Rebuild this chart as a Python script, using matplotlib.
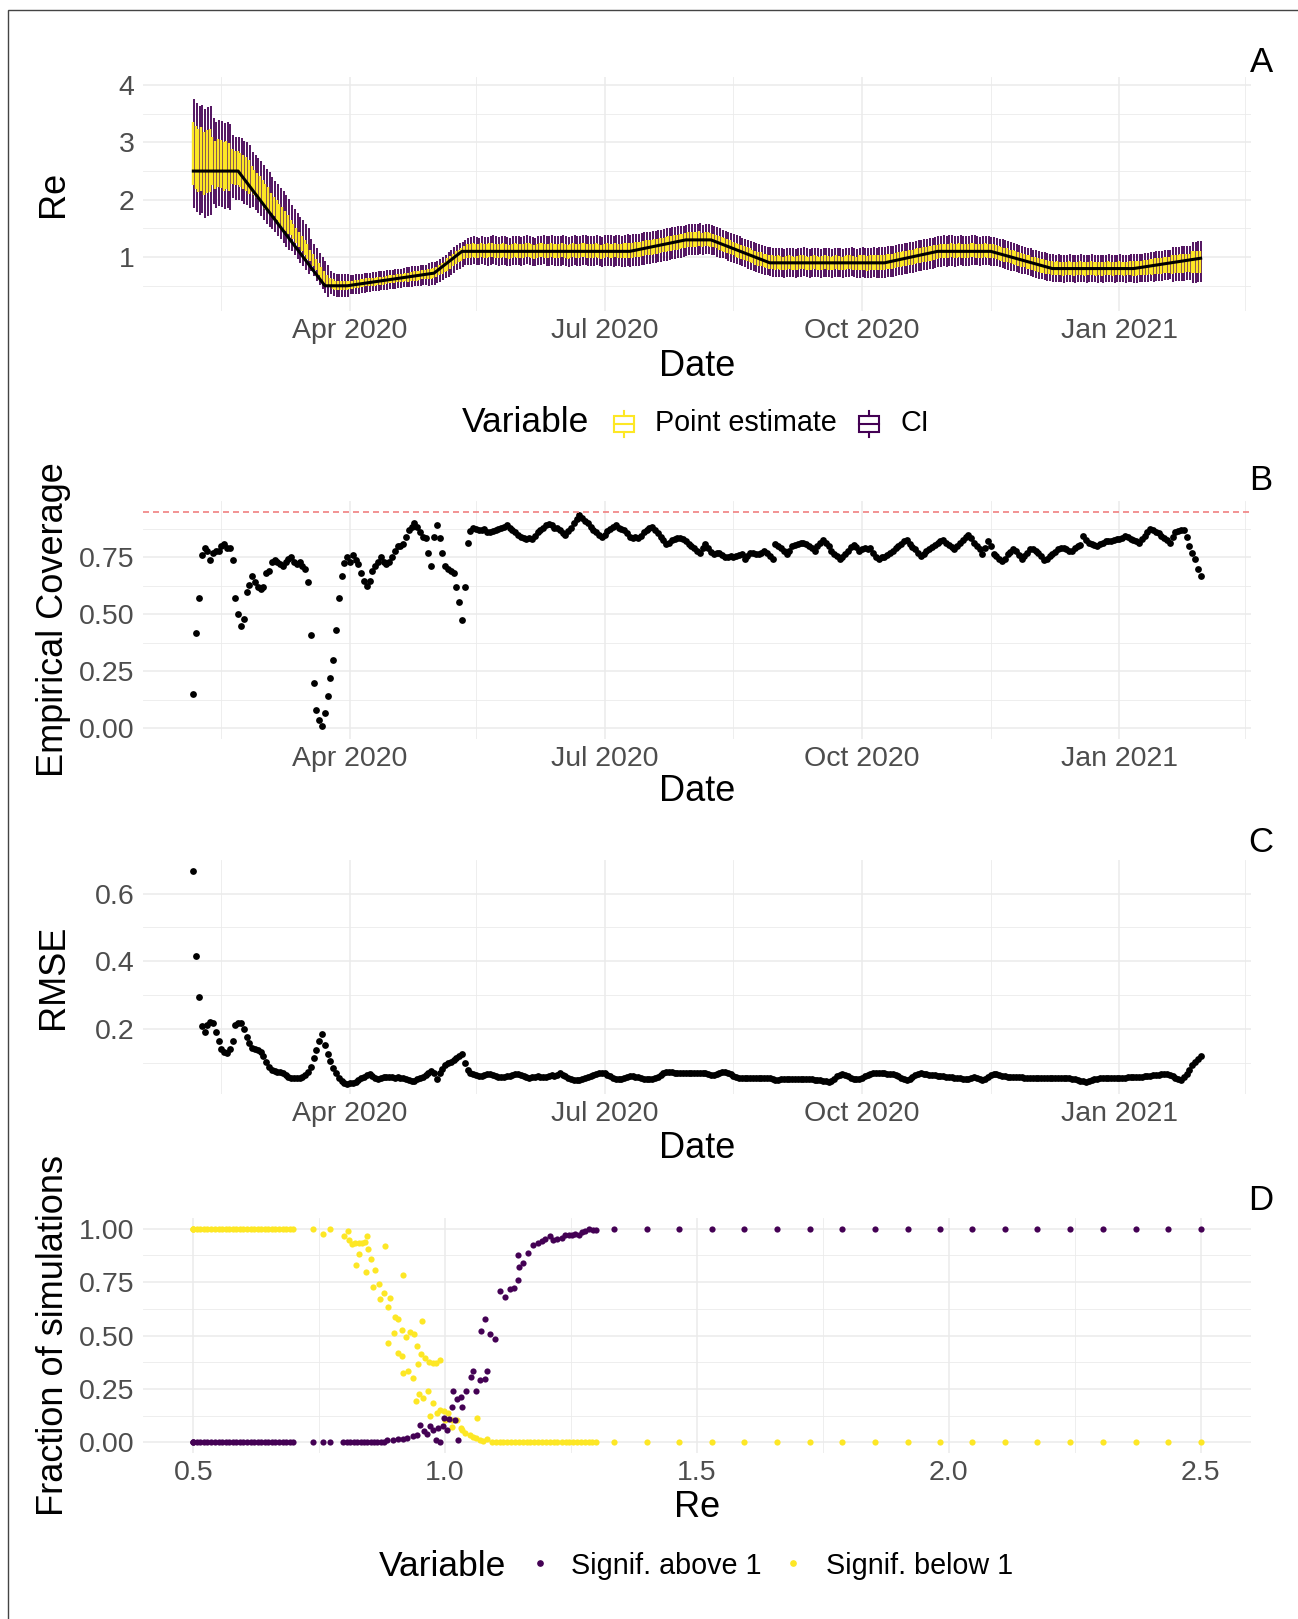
import numpy as np
import pandas as pd
import matplotlib
matplotlib.use("Agg")
import matplotlib.pyplot as plt
import matplotlib.dates as mdates
from matplotlib.patches import Rectangle
from matplotlib.lines import Line2D
from matplotlib.ticker import FixedLocator

plt.rcParams["font.family"] = ["Liberation Sans", "DejaVu Sans"]

PURPLE = "#440154"
YELLOW = "#FDE725"
GRID = "#EBEBEB"
TICK = "#4D4D4D"

W, H = 1298, 1619

# ---------------- data ----------------
dates = pd.date_range("2020-02-05", "2021-01-30", freq="D")

# true Re (black line)
re_knot_dates = ["2020-02-05", "2020-02-21", "2020-03-23", "2020-03-31", "2020-05-01",
                 "2020-05-11", "2020-07-10", "2020-07-30", "2020-08-08", "2020-08-29",
                 "2020-10-09", "2020-10-28", "2020-11-16", "2020-12-08", "2021-01-06",
                 "2021-01-30"]
re_knot_vals = [2.5, 2.5, 0.5, 0.5, 0.72, 1.1, 1.1, 1.3, 1.3, 0.9, 0.9, 1.1, 1.1, 0.8, 0.8, 0.98]

# centre of the daily estimates
est = [
    2.80, 2.74, 2.68, 2.71, 2.63, 2.66, 2.69, 2.67, 2.61, 2.64,
    2.62, 2.58, 2.60, 2.57, 2.58, 2.55, 2.55, 2.52, 2.48, 2.45,
    2.40, 2.36, 2.30, 2.25, 2.20, 2.12, 2.06, 2.00, 1.94, 1.88,
    1.82, 1.76, 1.70, 1.63, 1.57, 1.51, 1.44, 1.37, 1.30, 1.24,
    1.17, 1.10, 1.03, 0.95, 0.87, 0.79, 0.72, 0.65, 0.59, 0.55,
    0.53, 0.51, 0.50, 0.51, 0.50, 0.51, 0.52, 0.52, 0.53, 0.53,
    0.54, 0.55, 0.56, 0.56, 0.57, 0.57, 0.58, 0.59, 0.59, 0.60,
    0.61, 0.61, 0.62, 0.63, 0.63, 0.64, 0.65, 0.65, 0.66, 0.67,
    0.67, 0.68, 0.69, 0.69, 0.70, 0.71, 0.72, 0.74, 0.77, 0.80,
    0.83, 0.87, 0.91, 0.95, 0.99, 1.02, 1.05, 1.08, 1.10, 1.11,
    1.12, 1.11, 1.10, 1.12, 1.11, 1.10, 1.12, 1.13, 1.11, 1.10,
    1.11, 1.12, 1.10, 1.09, 1.11, 1.12, 1.11, 1.10, 1.11, 1.13,
    1.12, 1.10, 1.09, 1.11, 1.12, 1.13, 1.11, 1.10, 1.12, 1.11,
    1.10, 1.11, 1.12, 1.10, 1.09, 1.11, 1.12, 1.11, 1.10, 1.12,
    1.13, 1.11, 1.10, 1.11, 1.12, 1.10, 1.09, 1.11, 1.12, 1.11,
    1.10, 1.12, 1.11, 1.10, 1.11, 1.12, 1.11, 1.12, 1.13, 1.13,
    1.14, 1.15, 1.16, 1.16, 1.17, 1.18, 1.19, 1.20, 1.21, 1.22,
    1.23, 1.24, 1.25, 1.26, 1.27, 1.28, 1.29, 1.30, 1.31, 1.30,
    1.31, 1.32, 1.30, 1.31, 1.31, 1.30, 1.29, 1.27, 1.25, 1.23,
    1.21, 1.19, 1.17, 1.15, 1.13, 1.11, 1.09, 1.07, 1.05, 1.03,
    1.01, 0.99, 0.97, 0.96, 0.94, 0.93, 0.92, 0.91, 0.90, 0.91,
    0.90, 0.89, 0.90, 0.91, 0.90, 0.89, 0.90, 0.91, 0.92, 0.90,
    0.89, 0.90, 0.91, 0.90, 0.89, 0.90, 0.91, 0.90, 0.89, 0.90,
    0.91, 0.90, 0.89, 0.90, 0.91, 0.92, 0.90, 0.89, 0.90, 0.91,
    0.90, 0.89, 0.90, 0.91, 0.90, 0.91, 0.90, 0.91, 0.92, 0.92,
    0.93, 0.94, 0.95, 0.96, 0.97, 0.98, 0.99, 1.00, 1.01, 1.02,
    1.03, 1.04, 1.05, 1.06, 1.07, 1.08, 1.09, 1.10, 1.11, 1.10,
    1.11, 1.12, 1.10, 1.11, 1.12, 1.11, 1.10, 1.11, 1.12, 1.13,
    1.11, 1.10, 1.11, 1.12, 1.11, 1.10, 1.10, 1.09, 1.07, 1.06,
    1.04, 1.03, 1.01, 1.00, 0.98, 0.97, 0.95, 0.94, 0.92, 0.91,
    0.89, 0.88, 0.86, 0.85, 0.84, 0.83, 0.82, 0.81, 0.80, 0.81,
    0.80, 0.79, 0.80, 0.81, 0.80, 0.79, 0.80, 0.81, 0.80, 0.79,
    0.80, 0.81, 0.80, 0.79, 0.80, 0.79, 0.80, 0.81, 0.80, 0.79,
    0.80, 0.81, 0.80, 0.79, 0.80, 0.81, 0.80, 0.80, 0.81, 0.81,
    0.82, 0.82, 0.83, 0.83, 0.84, 0.85, 0.85, 0.86, 0.86, 0.87,
    0.87, 0.88, 0.88, 0.89, 0.89, 0.90, 0.90, 0.91, 0.91, 0.92, 0.92,
]

# weekly half-heights of the point-estimate and CI bars
pe_half_week = [0.55, 0.42, 0.30, 0.22, 0.17, 0.13, 0.10, 0.08, 0.07, 0.07, 0.07, 0.08, 0.09,
                0.11, 0.12, 0.12, 0.12, 0.12, 0.12, 0.12, 0.12, 0.12, 0.13, 0.13, 0.13, 0.13,
                0.12, 0.12, 0.12, 0.12, 0.12, 0.12, 0.12, 0.12, 0.13, 0.13, 0.13, 0.13, 0.12,
                0.12, 0.12, 0.12, 0.12, 0.12, 0.12, 0.12, 0.12, 0.12, 0.13, 0.14, 0.16, 0.19]
ci_half_week = [0.95, 0.75, 0.55, 0.48, 0.45, 0.40, 0.28, 0.20, 0.17, 0.17, 0.17, 0.18, 0.20,
                0.22, 0.24, 0.25, 0.25, 0.25, 0.26, 0.26, 0.26, 0.27, 0.28, 0.28, 0.28, 0.27,
                0.26, 0.25, 0.25, 0.25, 0.25, 0.25, 0.25, 0.25, 0.26, 0.27, 0.27, 0.27, 0.27,
                0.26, 0.25, 0.25, 0.24, 0.24, 0.24, 0.24, 0.24, 0.24, 0.25, 0.26, 0.30, 0.36]

coverage = [
    0.15, 0.42, 0.57, 0.76, 0.79, 0.78, 0.74, 0.77, 0.78, 0.78,
    0.80, 0.81, 0.79, 0.79, 0.74, 0.57, 0.50, 0.45, 0.48, 0.60,
    0.63, 0.67, 0.64, 0.62, 0.61, 0.62, 0.68, 0.69, 0.73, 0.74,
    0.73, 0.72, 0.71, 0.73, 0.745, 0.75, 0.73, 0.72, 0.73, 0.71,
    0.70, 0.64, 0.41, 0.20, 0.08, 0.035, 0.01, 0.065, 0.14, 0.22,
    0.30, 0.43, 0.57, 0.67, 0.725, 0.75, 0.73, 0.76, 0.74, 0.72,
    0.68, 0.645, 0.625, 0.645, 0.69, 0.71, 0.73, 0.75, 0.73, 0.72,
    0.73, 0.75, 0.78, 0.80, 0.80, 0.81, 0.84, 0.87, 0.885, 0.90,
    0.885, 0.86, 0.84, 0.835, 0.77, 0.71, 0.84, 0.89, 0.835, 0.77,
    0.71, 0.70, 0.69, 0.68, 0.62, 0.555, 0.475, 0.62, 0.815, 0.865,
    0.88, 0.875, 0.87, 0.87, 0.875, 0.86, 0.86, 0.865, 0.87, 0.875,
    0.88, 0.885, 0.89, 0.88, 0.87, 0.86, 0.85, 0.84, 0.835, 0.83,
    0.835, 0.83, 0.845, 0.86, 0.87, 0.88, 0.89, 0.895, 0.89, 0.88,
    0.88, 0.87, 0.855, 0.85, 0.865, 0.88, 0.90, 0.92, 0.937, 0.925,
    0.91, 0.90, 0.885, 0.87, 0.86, 0.85, 0.84, 0.85, 0.865, 0.875,
    0.885, 0.89, 0.88, 0.875, 0.87, 0.855, 0.84, 0.835, 0.84, 0.835,
    0.845, 0.86, 0.87, 0.88, 0.885, 0.87, 0.855, 0.84, 0.825, 0.81,
    0.815, 0.825, 0.83, 0.835, 0.835, 0.83, 0.82, 0.81, 0.80, 0.79,
    0.78, 0.77, 0.79, 0.81, 0.79, 0.775, 0.765, 0.77, 0.77, 0.76,
    0.75, 0.75, 0.755, 0.75, 0.755, 0.76, 0.765, 0.745, 0.755, 0.77,
    0.77, 0.765, 0.765, 0.77, 0.78, 0.77, 0.755, 0.745, 0.81, 0.80,
    0.79, 0.78, 0.765, 0.78, 0.80, 0.805, 0.81, 0.815, 0.815, 0.81,
    0.80, 0.79, 0.78, 0.80, 0.815, 0.825, 0.815, 0.80, 0.78, 0.765,
    0.755, 0.745, 0.75, 0.765, 0.78, 0.795, 0.805, 0.795, 0.78, 0.785,
    0.79, 0.785, 0.79, 0.77, 0.75, 0.745, 0.75, 0.75, 0.76, 0.77,
    0.78, 0.79, 0.80, 0.81, 0.82, 0.825, 0.81, 0.795, 0.785, 0.77,
    0.755, 0.765, 0.78, 0.785, 0.795, 0.805, 0.815, 0.82, 0.825, 0.815,
    0.805, 0.795, 0.785, 0.80, 0.815, 0.825, 0.84, 0.85, 0.835, 0.815,
    0.80, 0.785, 0.765, 0.79, 0.82, 0.80, 0.765, 0.755, 0.745, 0.735,
    0.745, 0.765, 0.775, 0.785, 0.78, 0.76, 0.745, 0.755, 0.77, 0.785,
    0.785, 0.78, 0.77, 0.755, 0.74, 0.745, 0.755, 0.765, 0.775, 0.785,
    0.79, 0.79, 0.785, 0.78, 0.78, 0.79, 0.80, 0.805, 0.845, 0.825,
    0.815, 0.81, 0.805, 0.80, 0.81, 0.815, 0.82, 0.82, 0.82, 0.825,
    0.83, 0.83, 0.835, 0.845, 0.84, 0.83, 0.825, 0.82, 0.815, 0.83,
    0.845, 0.86, 0.875, 0.87, 0.86, 0.855, 0.845, 0.835, 0.825, 0.815,
    0.84, 0.86, 0.865, 0.87, 0.87, 0.84, 0.80, 0.77, 0.745, 0.70, 0.67,
]

rmse = [
    0.667, 0.415, 0.295, 0.209, 0.192, 0.212, 0.222, 0.217, 0.192, 0.166,
    0.143, 0.133, 0.131, 0.141, 0.166, 0.212, 0.219, 0.217, 0.202, 0.177,
    0.158, 0.146, 0.141, 0.138, 0.133, 0.121, 0.104, 0.089, 0.079, 0.076,
    0.074, 0.073, 0.070, 0.065, 0.060, 0.056, 0.056, 0.056, 0.056, 0.058,
    0.064, 0.074, 0.089, 0.114, 0.140, 0.165, 0.187, 0.153, 0.127, 0.107,
    0.087, 0.072, 0.057, 0.047, 0.040, 0.038, 0.040, 0.042, 0.045, 0.050,
    0.055, 0.060, 0.065, 0.067, 0.062, 0.057, 0.054, 0.056, 0.058, 0.059,
    0.059, 0.058, 0.057, 0.058, 0.057, 0.056, 0.054, 0.050, 0.046, 0.048,
    0.052, 0.056, 0.060, 0.065, 0.070, 0.076, 0.070, 0.054, 0.070, 0.084,
    0.094, 0.099, 0.104, 0.109, 0.114, 0.121, 0.127, 0.099, 0.079, 0.072,
    0.067, 0.064, 0.062, 0.063, 0.065, 0.067, 0.068, 0.066, 0.063, 0.060,
    0.058, 0.059, 0.061, 0.063, 0.066, 0.068, 0.067, 0.064, 0.061, 0.058,
    0.057, 0.058, 0.060, 0.061, 0.060, 0.059, 0.060, 0.062, 0.064, 0.062,
    0.066, 0.070, 0.066, 0.061, 0.056, 0.052, 0.051, 0.050, 0.050, 0.052,
    0.055, 0.058, 0.062, 0.066, 0.069, 0.071, 0.072, 0.070, 0.066, 0.061,
    0.056, 0.053, 0.052, 0.054, 0.057, 0.060, 0.062, 0.062, 0.060, 0.058,
    0.056, 0.054, 0.053, 0.052, 0.052, 0.055, 0.060, 0.066, 0.072, 0.075,
    0.074, 0.073, 0.072, 0.072, 0.071, 0.072, 0.072, 0.072, 0.071, 0.072,
    0.072, 0.072, 0.072, 0.070, 0.068, 0.066, 0.065, 0.068, 0.071, 0.074,
    0.075, 0.072, 0.068, 0.063, 0.059, 0.057, 0.057, 0.057, 0.057, 0.057,
    0.057, 0.057, 0.057, 0.057, 0.057, 0.057, 0.055, 0.052, 0.050, 0.051,
    0.052, 0.053, 0.053, 0.053, 0.053, 0.053, 0.052, 0.052, 0.052, 0.052,
    0.052, 0.052, 0.051, 0.050, 0.049, 0.048, 0.046, 0.045, 0.048, 0.054,
    0.062, 0.066, 0.067, 0.066, 0.062, 0.057, 0.053, 0.052, 0.054, 0.057,
    0.061, 0.065, 0.068, 0.071, 0.072, 0.072, 0.071, 0.070, 0.069, 0.068,
    0.068, 0.066, 0.062, 0.057, 0.052, 0.050, 0.053, 0.058, 0.064, 0.068,
    0.070, 0.069, 0.068, 0.066, 0.065, 0.064, 0.063, 0.062, 0.061, 0.060,
    0.059, 0.058, 0.057, 0.056, 0.055, 0.054, 0.053, 0.054, 0.057, 0.060,
    0.056, 0.052, 0.050, 0.053, 0.058, 0.064, 0.068, 0.067, 0.065, 0.063,
    0.061, 0.060, 0.060, 0.059, 0.059, 0.058, 0.058, 0.057, 0.057, 0.057,
    0.057, 0.057, 0.057, 0.057, 0.057, 0.057, 0.057, 0.057, 0.057, 0.057,
    0.056, 0.056, 0.055, 0.055, 0.054, 0.052, 0.050, 0.048, 0.046, 0.044,
    0.046, 0.049, 0.052, 0.054, 0.055, 0.055, 0.055, 0.055, 0.055, 0.055,
    0.055, 0.055, 0.056, 0.057, 0.058, 0.059, 0.060, 0.060, 0.060, 0.060,
    0.061, 0.062, 0.063, 0.064, 0.065, 0.066, 0.067, 0.067, 0.068, 0.066,
    0.062, 0.056, 0.052, 0.050, 0.058, 0.068, 0.080, 0.094, 0.104, 0.113, 0.121,
]

# panel D: fraction of simulations vs true Re
re_low = [0.500, 0.500, 0.500, 0.507, 0.514, 0.521, 0.528, 0.535, 0.543, 0.550, 0.557,
          0.564, 0.571, 0.578, 0.585, 0.592, 0.599, 0.606, 0.614, 0.621, 0.628, 0.635,
          0.642, 0.649, 0.656, 0.663, 0.670, 0.677, 0.684, 0.691, 0.698]
re_high = [1.335, 1.400, 1.465, 1.529, 1.594, 1.659, 1.724, 1.788, 1.853, 1.918,
           1.982, 2.047, 2.112, 2.176, 2.241, 2.306, 2.371, 2.435, 2.500]
above_mid = [
    (0.737, 0.0), (0.757, 0.0), (0.772, 0.0), (0.798, 0.0), (0.805, 0.0), (0.812, 0.0),
    (0.818, 0.0), (0.825, 0.0), (0.832, 0.0), (0.838, 0.0), (0.845, 0.0), (0.852, 0.0),
    (0.858, 0.0), (0.865, 0.0), (0.872, 0.0), (0.878, 0.0), (0.884, 0.013), (0.897, 0.013),
    (0.907, 0.017), (0.917, 0.017), (0.924, 0.022), (0.937, 0.028), (0.944, 0.036),
    (0.950, 0.081), (0.958, 0.053), (0.964, 0.041), (0.970, 0.078), (0.976, 0.059),
    (0.982, 0.013), (0.985, 0.069), (0.990, 0.002), (0.995, 0.075), (0.998, 0.113),
    (1.003, 0.056), (1.007, 0.110), (1.013, 0.163), (1.015, 0.241), (1.020, 0.106),
    (1.026, 0.009), (1.024, 0.203), (1.031, 0.211), (1.033, 0.164), (1.041, 0.238),
    (1.052, 0.307), (1.055, 0.335), (1.062, 0.239), (1.069, 0.291), (1.079, 0.296),
    (1.084, 0.336), (1.071, 0.521), (1.079, 0.579), (1.089, 0.507), (1.099, 0.485),
    (1.108, 0.706), (1.118, 0.681), (1.128, 0.717), (1.137, 0.721), (1.145, 0.761),
    (1.147, 0.822), (1.155, 0.839), (1.144, 0.876), (1.165, 0.884), (1.175, 0.922),
    (1.185, 0.933), (1.192, 0.944), (1.198, 0.953), (1.208, 0.964), (1.215, 0.948),
    (1.222, 0.951), (1.232, 0.956), (1.238, 0.969), (1.245, 0.972), (1.251, 0.972),
    (1.258, 0.975), (1.265, 0.972), (1.271, 0.983), (1.278, 0.991), (1.286, 0.998),
    (1.294, 0.995), (1.299, 0.992),
]
below_mid = [
    (0.737, 1.0), (0.757, 0.973), (0.772, 0.998), (0.800, 0.964), (0.808, 0.991),
    (0.810, 0.948), (0.815, 0.928), (0.821, 0.933), (0.828, 0.933), (0.835, 0.933),
    (0.840, 0.936), (0.845, 0.964), (0.846, 0.905), (0.828, 0.883), (0.822, 0.829),
    (0.843, 0.795), (0.853, 0.858), (0.857, 0.726), (0.861, 0.808), (0.868, 0.742),
    (0.871, 0.671), (0.881, 0.917), (0.878, 0.701), (0.886, 0.632), (0.891, 0.674),
    (0.900, 0.587), (0.907, 0.576), (0.917, 0.784), (0.915, 0.524), (0.899, 0.513),
    (0.886, 0.466), (0.907, 0.419), (0.914, 0.405), (0.923, 0.495), (0.931, 0.518),
    (0.939, 0.507), (0.945, 0.452), (0.954, 0.568), (0.952, 0.413), (0.960, 0.393),
    (0.968, 0.377), (0.976, 0.372), (0.982, 0.372), (0.990, 0.385), (0.947, 0.365),
    (0.917, 0.326), (0.927, 0.333), (0.937, 0.302), (0.949, 0.228), (0.956, 0.208),
    (0.966, 0.239), (0.942, 0.194), (0.976, 0.182), (0.970, 0.124), (0.983, 0.139),
    (0.989, 0.150), (0.998, 0.147), (1.005, 0.138), (1.000, 0.103), (1.013, 0.106),
    (1.023, 0.103), (1.013, 0.072), (1.031, 0.069), (1.040, 0.044), (1.033, 0.056),
    (1.050, 0.033), (1.055, 0.025), (1.063, 0.113), (1.061, 0.019), (1.069, 0.009),
    (1.076, 0.006), (1.084, 0.017),
]
below_zero_re = [1.092, 1.100, 1.108, 1.115, 1.123, 1.131, 1.138, 1.146, 1.154, 1.162,
                 1.169, 1.177, 1.185, 1.192, 1.200, 1.208, 1.216, 1.223, 1.231, 1.239,
                 1.246, 1.254, 1.262, 1.269, 1.277, 1.285, 1.292, 1.300]

major_dates = ["2020-04-01", "2020-07-01", "2020-10-01", "2021-01-01"]
minor_dates = ["2020-02-15", "2020-05-16", "2020-08-16", "2020-11-16", "2021-02-15"]


# ---------------- helpers ----------------
def fx(px):
    return px / W


def fy(py):
    return 1 - py / H


def panel(top, bottom):
    return fig.add_axes([fx(143), fy(bottom), (1251 - 143) / W, (bottom - top) / H])


def style(ax):
    for s in ax.spines.values():
        s.set_visible(False)
    ax.set_axisbelow(True)
    ax.grid(which="major", color=GRID, lw=1.1)
    ax.grid(which="minor", color=GRID, lw=0.6)
    ax.tick_params(which="both", length=0)
    ax.tick_params(axis="x", labelsize=20.5, labelcolor=TICK, pad=5)
    ax.tick_params(axis="y", labelsize=20.5, labelcolor=TICK, pad=6)


def date_axis(ax):
    ax.set_xlim(mdates.date2num(pd.Timestamp("2020-01-18")),
                mdates.date2num(pd.Timestamp("2021-02-17")))
    ax.xaxis.set_major_locator(FixedLocator(mdates.date2num(pd.to_datetime(major_dates))))
    ax.xaxis.set_minor_locator(FixedLocator(mdates.date2num(pd.to_datetime(minor_dates))))
    ax.xaxis.set_major_formatter(mdates.DateFormatter("%b %Y"))


def labels(ax, xlab, ylab, bottom, top, xoff=52):
    hgt = bottom - top
    ax.set_xlabel(xlab, fontsize=26, va="center")
    ax.xaxis.set_label_coords(0.5, -xoff / hgt)
    ax.set_ylabel(ylab, fontsize=26, va="center")
    ax.yaxis.set_label_coords((54 - 143) / 1108, 0.5)


def box_key(cx, cy, color):
    fig.add_artist(Rectangle((fx(cx - 10), fy(cy + 8)), 20 / W, 16 / H, transform=fig.transFigure,
                             facecolor="white", edgecolor=color, lw=1.5))
    fig.add_artist(Line2D([fx(cx - 10), fx(cx + 10)], [fy(cy), fy(cy)], transform=fig.transFigure,
                          color=color, lw=1.5))
    fig.add_artist(Line2D([fx(cx), fx(cx)], [fy(cy - 8), fy(cy - 13)], transform=fig.transFigure,
                          color=color, lw=1.5))
    fig.add_artist(Line2D([fx(cx), fx(cx)], [fy(cy + 8), fy(cy + 13)], transform=fig.transFigure,
                          color=color, lw=1.5))


fig = plt.figure(figsize=(W / 100, H / 100), dpi=100)

xd = mdates.date2num(dates)
est_a = np.array(est)
pe_half = np.repeat(pe_half_week, 7)[:len(dates)]
ci_half = np.repeat(ci_half_week, 7)[:len(dates)]

# ---------------- panel A ----------------
axA = panel(77, 311)
style(axA)
date_axis(axA)
axA.vlines(xd + 0.22, est_a - ci_half, est_a + ci_half, color=PURPLE, lw=1.3)
axA.vlines(xd - 0.22, est_a - pe_half, est_a + pe_half, color=YELLOW, lw=1.7)
axA.plot(mdates.date2num(pd.to_datetime(re_knot_dates)), re_knot_vals, color="black", lw=2.2)
axA.set_ylim(0.06, 4.14)
axA.yaxis.set_major_locator(FixedLocator([1, 2, 3, 4]))
axA.yaxis.set_minor_locator(FixedLocator([0.5, 1.5, 2.5, 3.5]))
axA.set_yticklabels(["1", "2", "3", "4"])
labels(axA, "Date", "Re", 311, 77, xoff=56)

# legend A
fig.text(fx(462), fy(423), "Variable", fontsize=25.5, ha="left", va="center")
box_key(624, 424, YELLOW)
fig.text(fx(655), fy(423), "Point estimate", fontsize=20.7, ha="left", va="center")
box_key(869, 424, PURPLE)
fig.text(fx(900), fy(423), "CI", fontsize=20.7, ha="left", va="center")

# ---------------- panel B ----------------
axB = panel(501, 739)
style(axB)
date_axis(axB)
axB.axhline(0.95, color="#F08080", lw=1.2, dashes=(3.6, 2.4))
axB.scatter(xd, coverage, s=24, color="black", linewidths=0)
axB.set_ylim(-0.0475, 0.9975)
axB.yaxis.set_major_locator(FixedLocator([0, 0.25, 0.5, 0.75]))
axB.yaxis.set_minor_locator(FixedLocator([0.125, 0.375, 0.625, 0.875]))
axB.set_yticklabels(["0.00", "0.25", "0.50", "0.75"])
labels(axB, "Date", "Empirical Coverage", 739, 501)

# ---------------- panel C ----------------
axC = panel(860, 1094)
style(axC)
date_axis(axC)
axC.scatter(xd, rmse, s=24, color="black", linewidths=0)
axC.set_ylim(0.009, 0.699)
axC.yaxis.set_major_locator(FixedLocator([0.2, 0.4, 0.6]))
axC.yaxis.set_minor_locator(FixedLocator([0.1, 0.3, 0.5]))
axC.set_yticklabels(["0.2", "0.4", "0.6"])
labels(axC, "Date", "RMSE", 1094, 860, xoff=54)

# ---------------- panel D ----------------
axD = panel(1218, 1453)
style(axD)
above_x = re_low + [p[0] for p in above_mid] + re_high
above_y = [0.0] * len(re_low) + [p[1] for p in above_mid] + [1.0] * len(re_high)
below_x = re_low + [p[0] for p in below_mid] + below_zero_re + re_high
below_y = [1.0] * len(re_low) + [p[1] for p in below_mid] + [0.0] * len(below_zero_re) + [0.0] * len(re_high)
axD.scatter(below_x, below_y, s=20, color=YELLOW, linewidths=0)
axD.scatter(above_x, above_y, s=20, color=PURPLE, linewidths=0)
axD.set_xlim(0.4, 2.6)
axD.set_ylim(-0.05, 1.05)
axD.xaxis.set_major_locator(FixedLocator([0.5, 1.0, 1.5, 2.0, 2.5]))
axD.xaxis.set_minor_locator(FixedLocator([0.75, 1.25, 1.75, 2.25]))
axD.set_xticklabels(["0.5", "1.0", "1.5", "2.0", "2.5"])
axD.yaxis.set_major_locator(FixedLocator([0, 0.25, 0.5, 0.75, 1.0]))
axD.yaxis.set_minor_locator(FixedLocator([0.125, 0.375, 0.625, 0.875]))
axD.set_yticklabels(["0.00", "0.25", "0.50", "0.75", "1.00"])
labels(axD, "Re", "Fraction of simulations", 1453, 1218, xoff=54)

# legend D
fig.text(fx(379), fy(1566), "Variable", fontsize=25.5, ha="left", va="center")
fig.add_artist(Line2D([fx(540)], [fy(1563)], transform=fig.transFigure, marker="o", ms=3.8,
                      color=PURPLE, lw=0))
fig.text(fx(571), fy(1566), "Signif. above 1", fontsize=20.7, ha="left", va="center")
fig.add_artist(Line2D([fx(793)], [fy(1563)], transform=fig.transFigure, marker="o", ms=3.8,
                      color=YELLOW, lw=0))
fig.text(fx(826), fy(1566), "Signif. below 1", fontsize=20.7, ha="left", va="center")

# panel letters
for letter, py in [("A", 62), ("B", 480), ("C", 842), ("D", 1200)]:
    fig.text(fx(1261), fy(py), letter, fontsize=25, ha="center", va="center")

# outer frame (only top and left edges are inside the picture)
fig.add_artist(Rectangle((fx(8), -0.1), 1.2, fy(10) + 0.1, transform=fig.transFigure,
                         fill=False, edgecolor="#444444", lw=1.0))

fig.savefig("out.png", dpi=100)
